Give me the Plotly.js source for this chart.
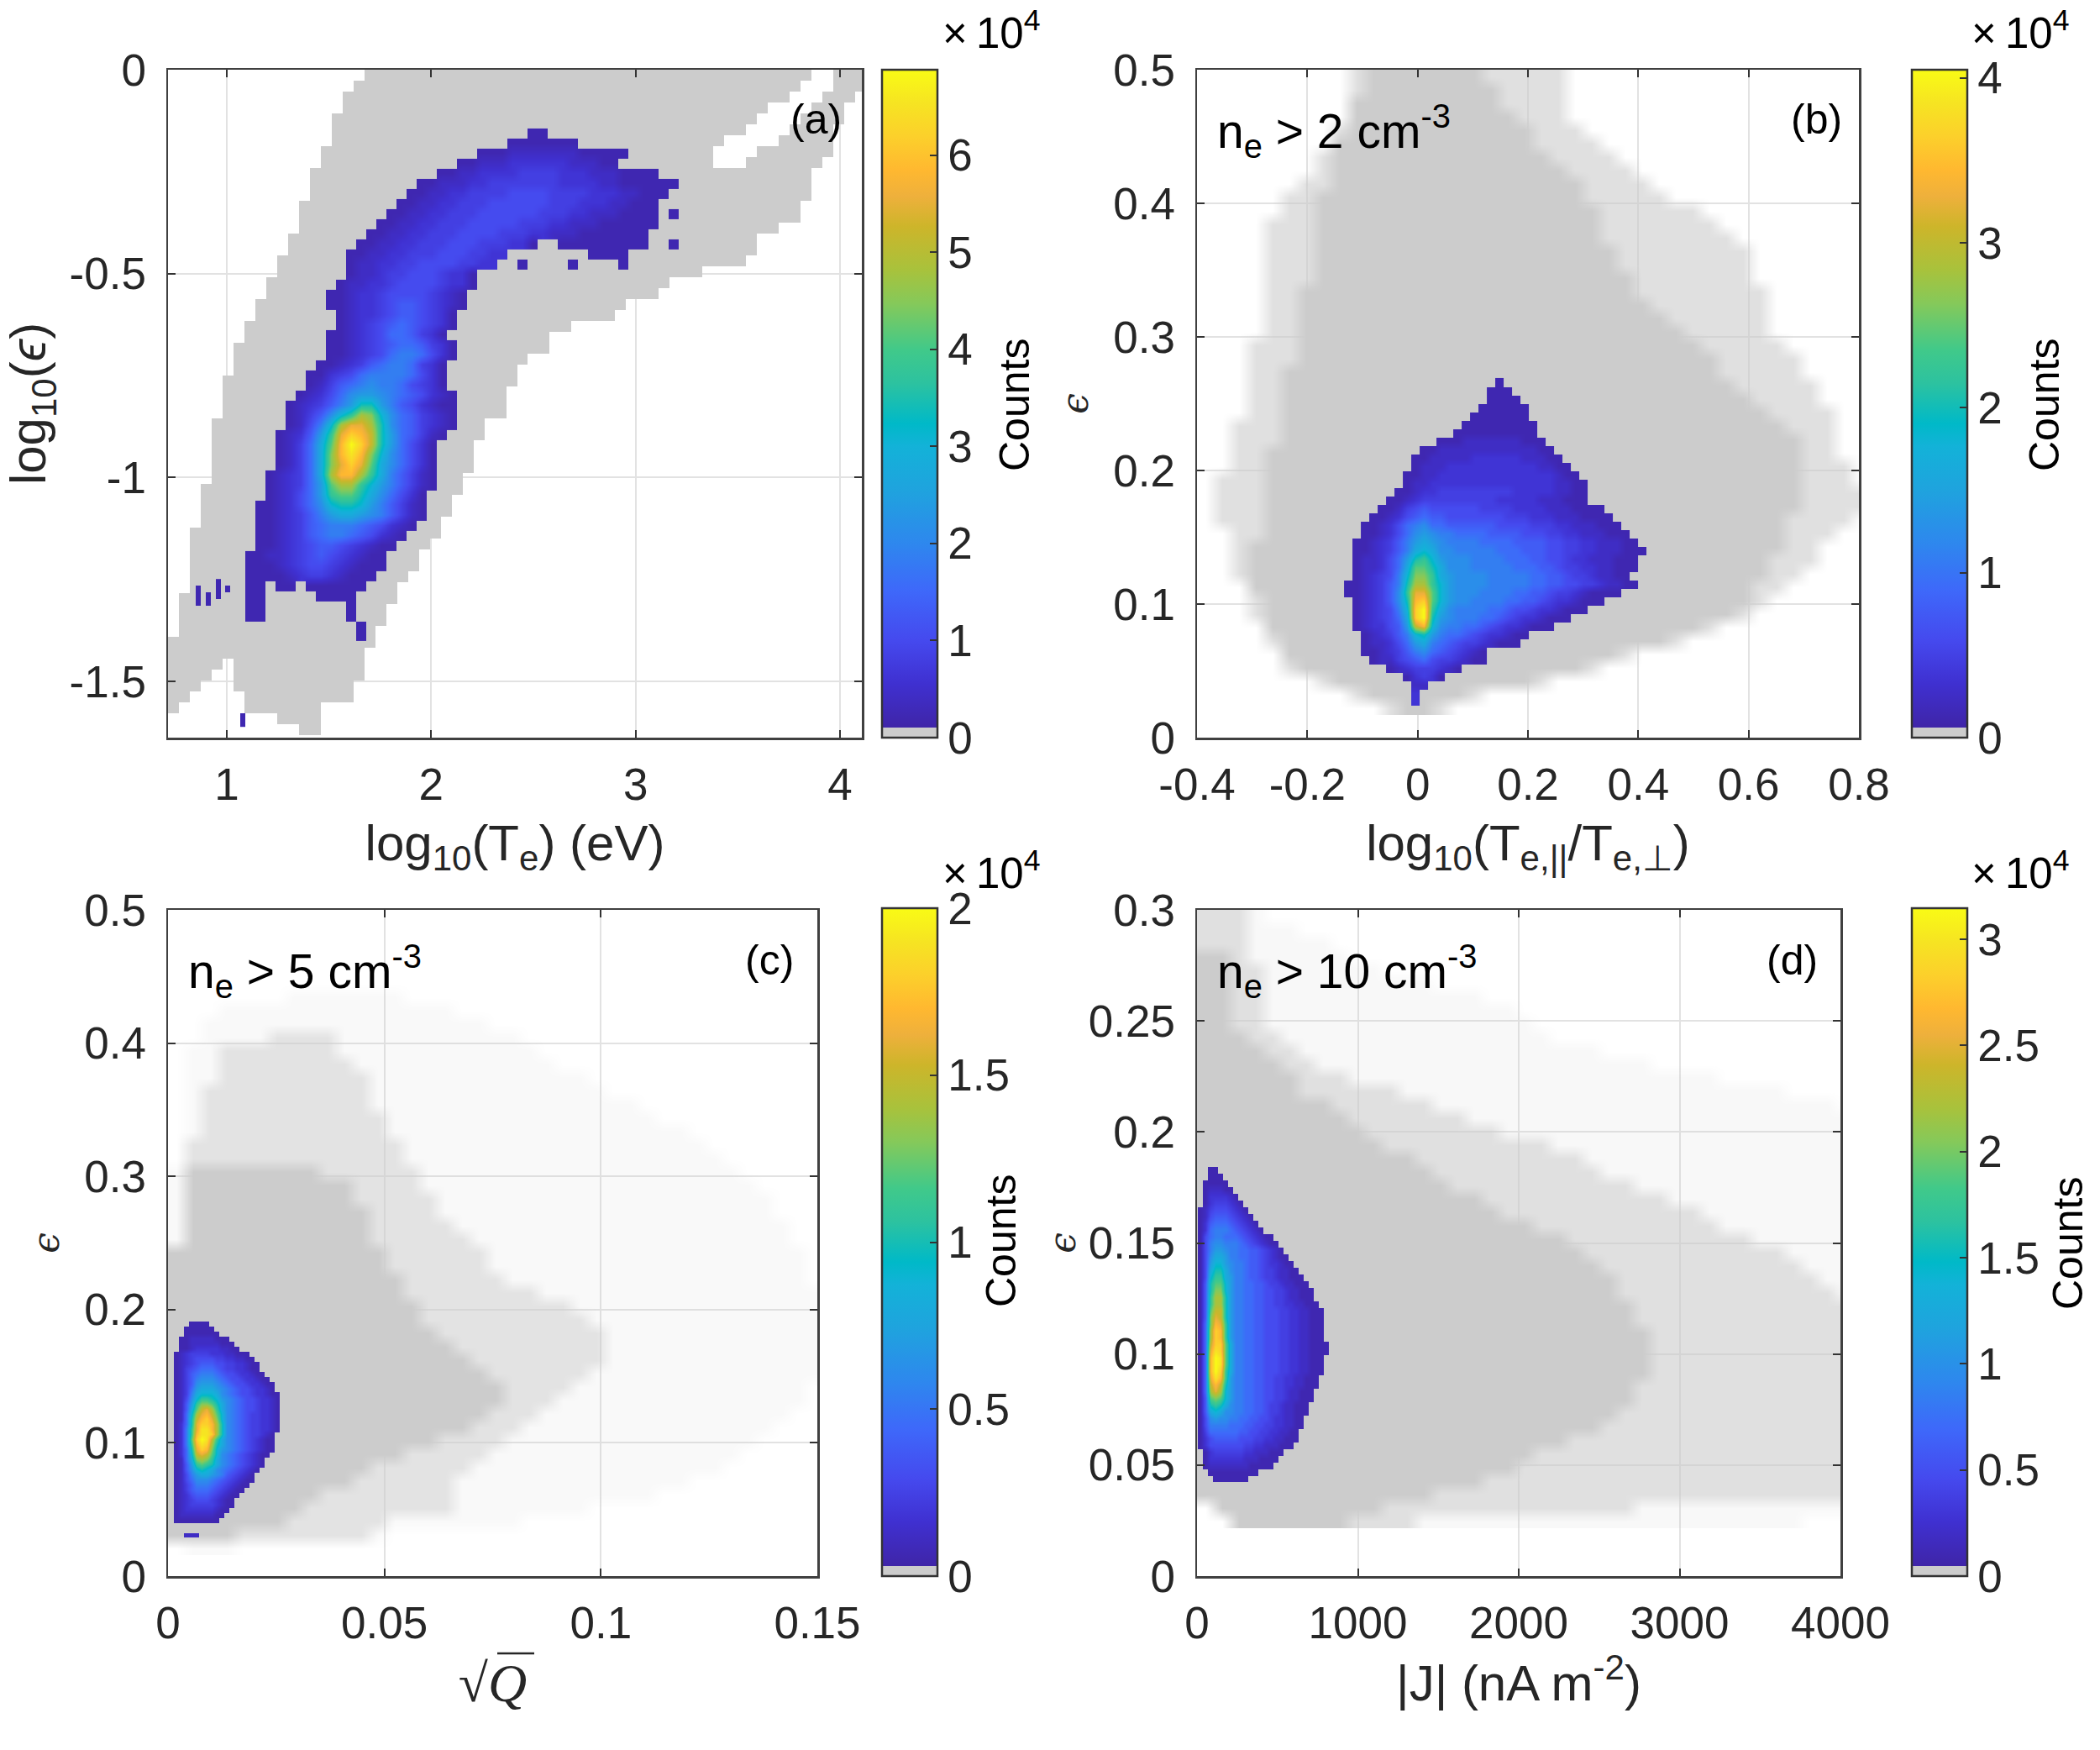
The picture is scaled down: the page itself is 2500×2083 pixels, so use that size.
<!DOCTYPE html>
<html>
<head>
<meta charset="utf-8">
<script src="https://cdn.plot.ly/plotly-3.0.1.min.js"></script>
<style>body{margin:0;background:#fff}</style>
</head>
<body>
<div id="fig" style="width:2500px;height:2083px"></div>
<script>
// fraction of the colorbar top for each character of the core rows
var levelChars = "123456789ABCDEFGHIJKLMN";
var levelFrac = [.03,.06,.09,.12,.15,.19,.23,.27,.31,.35,.40,.45,.50,.55,.60,.65,.70,.75,.80,.85,.90,.95,1];

// counts max (x10^4) of each colorbar
var cmaxA = 6.88, cmaxB = 4.05, cmaxC = 2, cmaxD = 3.147;

// panel a: populated bins (runs of columns per row), then counts per bin
var maskA = [
[18,58,61,63],[17,57,61,63],[16,56,60,62],[16,54,59,61],[15,53,58,61],[15,52,57,60],[15,50,56,60],[14,49,54,60],[14,49,53,59],[13,58],
[13,58],[13,58],[12,57],[12,57],[12,55],[11,53],[11,53],[10,52],[10,48],[9,45],
[9,44],[8,41],[8,40],[7,36],[7,34],[6,34],[6,32],[6,31],[5,31],[5,30],
[5,30],[5,30],[4,28],[4,28],[4,27],[4,27],[4,27],[4,26],[3,26],[3,25],
[3,25],[3,24],[2,24],[2,23],[2,22],[2,22],[2,21],[2,20],[1,20],[1,19],
[1,19],[1,18],[0,18],[0,17],[0,4,6,17],[0,3,6,17],[0,2,6,16],[0,1,7,16],[0,0,7,13],[10,13],[12,13]
];
var coreA = [
"...........................................",
".............................11............",
"...........................1111111.........",
"........................111222222211111....",
"......................1122233333322211.....",
"....................1122333344443332221111.",
"..................11222334444444333322111111",
".................11223344445555444433322111",
"................11223344455555544433322111.",
"...............112233444555555444332221111.1",
"..............1122334445555544433222111111.",
".............1122334445555444332221111111..",
"............112233444555444331..111111111..1",
"...........1122334445554433........1111....",
"...........122334455554433..1....1....1....",
"...........1223445554331",
"..........12233455554331",
".........11233455554321",
".........11233456654321",
"..........123345665431",
"..........123456765431",
".........112345776431",
".........1123456776431",
".........1123457887531",
"........1123467887431",
".......11345788887531",
".......12467898875431",
"......123579AA98765321",
".....123468ADDA8653211",
".....12469CEHGC9764321",
".....1258CHJJHD9764321",
"....1236AEJLKIDA76421",
"....1247BFKNLIDA7531",
"....1247BGKMKGC97531",
"....1247BGJLJFB97531",
"...12347BHKKHEB86421",
"...12347AFHHECA86421",
"...12357AEFFDB97531",
"..1123579CDDCA86421",
"..1123468ABBA986421",
"..1123467888765321",
"..112346788765321",
"..11234566543211",
".11223456543211",
".11123455432111",
".1111234432111",
".11.11.111111",
".11.....1111",
".11........1",
".11........1",
"............1",
"............1"
];
// the few isolated bins left of the core in panel a
var strayA = [
"....1.....",
"1...1.1...",
"1.1.1.....",
"1.1.......",
"..........",
"..........",
"..........",
"..........",
"..........",
"..........",
"..........",
"..........",
"..........",
"..........",
"..........",
"..........",
"..........",
"..........",
"..........",
"..........",
".........1",
".........1"
];

// panel b: column pairs per row, sparse then dense
var maskB = [
[9,21,10,16],[9,21,10,17],[9,21,9,17],[9,21,9,18],[8,22,9,19],[8,23,8,19],[7,24,8,20],[7,25,8,21],[6,26,8,22],[5,27,7,22],
[5,29,7,23],[4,30,7,23],[4,31,7,23],[4,32,7,24],[4,32,7,24],[4,32,7,25],[4,33,6,25],[4,33,6,26],[4,33,6,27],[4,33,6,28],
[3,34,6,29],[3,35,6,30],[3,35,5,30],[3,36,5,31],[3,36,5,32],[3,37,5,33],[2,37,5,34],[2,37,5,35],[2,37,4,35],[2,38,4,35],
[1,38,4,35],[1,39,4,35],[1,39,4,35],[1,38,4,34],[2,37,4,34],[2,36,3,34],[2,36,3,33],[2,35,3,33],[3,34,3,32],[3,33,4,32],
[3,32,4,31],[4,30,4,29],[4,28,5,27],[5,25,5,24],[5,23,6,22],[7,20,8,19],[9,16,10,15],[11,14,12,13]
];
var coreB = [
"...................1",
"..................111",
"..................1111",
".................111111",
"................1111111",
"...............111111111",
"..............1111111111",
"............1112222222111",
"..........1122222222222211",
".........112222233333322211",
".........1222333333333332211",
"........112233333333333333211",
"........1223333333333333332211",
".......11233444444444333332211",
"......112344444444433333222111",
".....112456555555444433332221111",
"....11235676655555554443332221111",
"...1123578977666666555544433222111",
"...1123579A988777766665554433222111",
"..1123468ABA988887777666655443322211",
"..1123468BCB9988888777666554433222111",
"..122357ADECA99988887776655433222111",
"..122357BFFDB99988888777665443322111",
"..123458CGGEBA999988888776654432211",
".1123468DHHECA9999888887766554432211",
".1123469EJJFCA99988887766544321111",
"..123469DKLFCA998888776654332111",
"..123458CLNEB98888776554332111",
"..123457BLNDA988877654332111",
"..123356AIKC98877654332111",
"...123468CDA87765433211",
"...122357AB87654432111",
"...112346897654321",
"....12245675443211",
"......123444321",
"........13431",
".........22",
".........3",
".........3"
];

// panel c: column pairs per row, faint then sparse then dense
var maskC = [
[],[],[],[],[],[],[7,13],[3,16],[2,18],[2,20,6,9],
[1,21,3,9],[1,22,3,10],[1,24,3,11],[1,25,2,11],[1,27,2,11],[1,28,2,12],[1,30,2,12],[1,31,1,13],[1,32,1,13],[0,33,1,14,1,8],
[0,34,1,14,1,10],[0,35,1,15,1,10],[0,35,1,15,1,11],[0,36,1,16,1,11],[0,36,1,17,1,11],[0,37,0,18,0,12],[0,37,0,18,0,12],[0,37,0,19,0,13],[0,38,0,21,0,13],[0,38,0,23,0,14],
[0,38,0,24,0,14],[0,38,0,25,0,15],[0,38,0,25,0,16],[0,38,0,25,0,17],[0,38,0,24,0,18],[0,37,0,23,0,19],[0,37,0,22,0,19],[0,36,0,21,0,18],[0,35,0,20,0,17],[0,34,0,19,0,15],
[0,33,0,18,0,13],[0,32,0,17,0,11],[0,30,0,16,0,10],[0,28,0,16,0,8],[0,24,0,16,0,7],[0,20,0,12,0,6],[0,12,0,11,0,3],[1,3]
];
var coreC = [
"",
"",
".....1111",
"....111111",
"....1111111",
"...1122222111",
"...11222222111",
"...112333332211",
"..123444433322111",
"..1234555544332211",
"..12345666554433211",
"..12456777654433211",
"..124678887655433211",
"..1246899987655433211",
"..12469AAA987655433211",
"..1247ABBBA98765543321",
"..1248BCCCB987655433211",
"..1259CEEDCA98765543321",
"..126AEGGFDB98765543321",
"..126BFIJHEB98765543321",
"..127CHJKIFC98765443321",
"..127DIKLJGC98765443321",
"..137DJLLKHD98765443321",
"..138EJMMKHD98765443321",
"..138EKMMLHD9876544321",
"..138FLNMIEB9876543211",
"..138EKMLHDB9876543211",
"..137DJLKGCA9876543211",
"..137CIJIFC9876543211",
"..127BGHGEB987654321",
"..126AEFEDB987654321",
"..1269CDCB987654321",
"..1258ABBA98654321",
"..1257999876543211",
"..124688876543211",
"..12467776543211",
"..1235666543211",
"..123455543211",
"..123444443211",
"..12333333211",
"..1222222211",
"..111111111",
"",
"",
"....222"
];

// panel d: column pairs per row, faint then sparse then dense
var maskD = [
[0,3,0,2],[0,5,0,2],[0,7,0,2],[0,8,0,2,0,1],[0,10,0,3,0,1],[0,13,0,3,0,1],[0,16,0,3,0,1],[0,18,0,3,0,1],[0,19,0,3,0,1],[0,20,0,4,0,2],
[0,23,0,5,0,3],[0,26,0,6,0,4],[0,30,0,8,0,5],[0,34,0,11,0,5],[0,37,0,13,0,7],[0,38,0,15,0,8],[0,38,0,17,0,9],[0,38,0,20,0,10],[0,38,0,22,0,12],[0,38,0,23,0,13],
[0,38,0,25,0,14],[0,38,0,27,0,16],[0,38,0,29,0,17],[0,38,0,30,0,19],[0,38,0,32,0,21],[0,38,0,34,0,22],[0,38,0,35,0,23],[0,38,0,36,0,24],[0,38,0,37,0,24],[0,38,0,38,0,25],
[0,38,0,38,0,25],[0,38,0,38,0,26],[0,38,0,38,0,26],[0,38,0,38,0,26],[0,38,0,38,0,26],[0,38,0,38,0,25],[0,38,0,38,0,25],[0,38,0,38,0,24],[0,38,0,38,0,23],[0,38,0,38,0,21],
[0,38,0,38,0,19],[0,38,0,38,0,18],[0,38,0,38,0,16],[0,38,0,38,0,13],[1,38,1,25,1,10],[2,35,2,12,2,8]
];
var coreD = [
"",
"...11",
"...111",
"..11111",
"..122211",
"..1333321",
"..13444321",
".1245554321",
".12566654321",
".136777654321",
".1378887654321",
".157887776543211",
".1589988876543211",
".158AA988776654321",
".159BBA887766543211",
".15ACCA9887665433211",
".15BDDB98876654432211",
".15CEEBA88766544322111",
".16DFFCA887766544322111",
".16DGGCA8877665544322111",
".16EHHDA8877665544322111",
".16EHHDA88776655443322111",
".16FIIDA887766555443322111",
".16GJIDA887766555443322111",
".17GKJEA887766555443322111",
".17HLKEA887766555443322111",
".17HLKEA887766555443322111",
".17ILLFB8877665554433221111",
".17JMLFB8877665554433221111",
".17KNMFB887766555443322111",
".17KNMFB887766555443322111",
".17KNLEB887766555443322111",
".17JMKEA88776655443322111",
".17IKIDA88776655443322111",
".17HJHCA8877665544322111",
".16FGFCA8877665544322111",
".16DEDB9887766544322111",
".16BCB99887766544322111",
".159A99887766554332211",
".158888777665544332211",
".14777777665544332211",
".13566666555443322111",
".1355555554433222111",
"..1344444433222111",
"..133333332221111",
"..12222222211111",
"...1111111111",
"....1111111"
];

// axis ticks
var xticksA = [1,2,3,4], yticksA = [0,-0.5,-1,-1.5];
var yticktextA = ["0","-0.5","-1","-1.5"];
var xticksB = [-0.4,-0.2,0,0.2,0.4,0.6,0.8], yticksB = [0,0.1,0.2,0.3,0.4,0.5];
var xticktextB = ["-0.4","-0.2","0","0.2","0.4","0.6","0.8"];
var xticksC = [0,0.05,0.1,0.15], yticksC = [0,0.1,0.2,0.3,0.4,0.5];
var xticksD = [0,1000,2000,3000,4000], yticksD = [0,0.05,0.1,0.15,0.2,0.25,0.3];
var cbTicksA = [0,1,2,3,4,5,6], cbTicksB = [0,1,2,3,4];
var cbTicksC = [0,0.5,1,1.5,2], cbTicksD = [0,0.5,1,1.5,2,2.5,3];

var W = 2500, H = 2083;
var textColor = "#262626";
var font = "Liberation Sans, Arial, sans-serif";

// first stop band is the grey "few counts" colour
var parula = [
  [0,"#cccccc"],[0.0156,"#cccccc"],[0.0156,"#3f25a8"],[0.08,"#3f30d0"],[0.145,"#4549ee"],
  [0.22,"#3e68fa"],[0.29,"#2e87ee"],[0.37,"#1fa3de"],[0.436,"#13b2d8"],[0.47,"#00b9c8"],
  [0.53,"#2cc2a0"],[0.58,"#40c98a"],[0.65,"#85c95a"],[0.70,"#a8c23c"],[0.765,"#cdb52a"],
  [0.81,"#eeb03c"],[0.85,"#ffb830"],[0.90,"#fcd02b"],[0.95,"#f6e422"],[1,"#f9fb15"]
];
var greyScale = [[0,"rgba(204,204,204,0)"],[1,"rgba(204,204,204,1)"]];

function maskMatrix(rows, ncols, levels, blank) {
  let z = [];
  rows.forEach(function (row) {
    let line = [];
    for (let c = 0; c < ncols; c++) {
      let v = blank;
      for (let k = 0; k + 1 < row.length; k += 2) {
        if (c >= row[k] && c <= row[k + 1]) v = levels[Math.min(k / 2, levels.length - 1)];
      }
      line.push(v);
    }
    z.push(line);
  });
  return z;
}

function coreMatrix(rows, cmax) {
  let ncols = 0;
  rows.forEach(function (r) { ncols = Math.max(ncols, r.length); });
  return rows.map(function (r) {
    let line = [];
    for (let c = 0; c < ncols; c++) {
      let i = c < r.length ? levelChars.indexOf(r[c]) : -1;
      line.push(i < 0 ? null : levelFrac[i] * cmax);
    }
    return line;
  });
}

function gridTrace(z, g, extra) {
  // rows are typed top to bottom, the axis runs bottom to top
  let t = {
    type: "heatmap",
    z: z.slice().reverse(),
    x0: g.x0, dx: g.dx,
    y0: g.ytop - g.dy * (z.length - 1), dy: g.dy,
    hoverinfo: "skip",
  };
  return Object.assign(t, extra);
}

function colorbar(x, y0, vals, labels) {
  return {
    x: x / W, xanchor: "left", y: 1 - y0 / H, yanchor: "bottom",
    len: 795 / H, lenmode: "fraction", thickness: 66, thicknessmode: "pixels",
    xpad: 0, ypad: 0, outlinecolor: "#333333", outlinewidth: 2.5, borderwidth: 0,
    ticks: "inside", ticklen: 10, tickwidth: 2, tickcolor: "#333333",
    tickvals: vals, ticktext: labels,
    tickfont: { family: font, size: 53, color: textColor },
  };
}

var data = [
  gridTrace(maskMatrix(maskA, 64, [1, 1], null), { x0: 0.7392, dx: 0.05339, ytop: -0.01337, dy: 0.02675 },
    { xaxis: "x", yaxis: "y", colorscale: greyScale, zmin: 0, zmax: 1, showscale: false }),
  gridTrace(coreMatrix(strayA, cmaxA), { x0: 1 - 34 / 243.5, dx: 3.5 / 243.5 * 1.7, ytop: -(694 - 83) / 486, dy: 8 / 486 },
    { xaxis: "x", yaxis: "y", colorscale: parula, zmin: 0, zmax: cmaxA, showscale: false }),
  gridTrace(coreMatrix(coreA, cmaxA), { x0: 1.0657, dx: 0.04928, ytop: -0.12963, dy: 0.02469 },
    { xaxis: "x", yaxis: "y", colorscale: parula, zmin: 0, zmax: cmaxA, zsmooth: "best",
      colorbar: colorbar(1050, 878, cbTicksA, cbTicksA.map(String)) }),

  gridTrace(maskMatrix(maskB, 40, [0.6, 1], 0), { x0: -0.3848, dx: 0.03046, ytop: 0.49497, dy: 0.01006 },
    { xaxis: "x2", yaxis: "y2", colorscale: greyScale, zmin: 0, zmax: 1, showscale: false, zsmooth: "best" }),
  gridTrace(coreMatrix(coreB, cmaxB), { x0: -0.1411, dx: 0.01523, ytop: 0.26607, dy: 0.00629 },
    { xaxis: "x2", yaxis: "y2", colorscale: parula, zmin: 0, zmax: cmaxB, zsmooth: "best",
      colorbar: colorbar(2276, 878, cbTicksB, cbTicksB.map(String)) }),

  gridTrace(maskMatrix(maskC, 39, [0.12, 0.55, 1], 0), { x0: 0.00194, dx: 0.00388, ytop: 0.49496, dy: 0.01009 },
    { xaxis: "x3", yaxis: "y3", colorscale: greyScale, zmin: 0, zmax: 1, showscale: false, zsmooth: "best" }),
  gridTrace(coreMatrix(coreC, cmaxC), { x0: -0.000388, dx: 0.001164, ytop: 0.19735, dy: 0.003783 },
    { xaxis: "x3", yaxis: "y3", colorscale: parula, zmin: 0, zmax: cmaxC, zsmooth: "best",
      colorbar: colorbar(1050, 1876, cbTicksC, cbTicksC.map(String)) }),

  gridTrace(maskMatrix(maskD, 39, [0.14, 0.6, 1], 0), { x0: 52.2, dx: 104.4, ytop: 0.29697, dy: 0.006053 },
    { xaxis: "x4", yaxis: "y4", colorscale: greyScale, zmin: 0, zmax: 1, showscale: false, zsmooth: "best" }),
  gridTrace(coreMatrix(coreD, cmaxD), { x0: -10.4, dx: 31.33, ytop: 0.18613, dy: 0.003026 },
    { xaxis: "x4", yaxis: "y4", colorscale: parula, zmin: 0, zmax: cmaxD, zsmooth: "best",
      colorbar: colorbar(2276, 1876, cbTicksD, cbTicksD.map(String)) }),
];

function xAxis(anchor, left, right, range, vals, labels, title, standoff, titleFont) {
  return {
    anchor: anchor,
    domain: [left / W, right / W], range: range,
    tickmode: "array", tickvals: vals, ticktext: labels,
    ticks: "inside", ticklen: 9, tickwidth: 2, tickcolor: "#333333",
    showline: true, linecolor: "#404040", linewidth: 2.5, mirror: "ticks",
    showgrid: true, gridcolor: "#e2e2e2", gridwidth: 2, zeroline: false,
    ticklabelstandoff: 8,
    tickfont: { family: font, size: 53, color: textColor },
    title: { text: title, standoff: standoff, font: titleFont || { family: font, size: 60, color: textColor } },
  };
}

function yAxis(anchor, top, bottom, range, vals, labels, title, standoff, titleFont) {
  let a = xAxis(anchor, 0, 1, range, vals, labels, title, standoff, titleFont);
  a.domain = [1 - bottom / H, 1 - top / H];
  a.ticklabelstandoff = 13;
  return a;
}

var epsFont = { family: "DejaVu Serif, serif", size: 44, color: textColor };

var layout = {
  width: W, height: H,
  margin: { l: 0, r: 0, t: 0, b: 0 },
  paper_bgcolor: "#ffffff", plot_bgcolor: "#ffffff",
  showlegend: false,
  xaxis: xAxis("y", 200, 1026, [0.7125, 4.107], xticksA, xticksA.map(String), "log<sub>10</sub>(T<sub>e</sub>) (eV)", 20),
  yaxis: yAxis("x", 83, 878, [-1.638, 0], yticksA, yticktextA, "log<sub>10</sub>(<i>ϵ</i>)", 12),
  xaxis2: xAxis("y2", 1425, 2213, [-0.4, 0.8], xticksB, xticktextB, "log<sub>10</sub>(T<sub>e,||</sub>/T<sub>e,⊥</sub>)", 20),
  yaxis2: yAxis("x2", 83, 878, [0, 0.5], yticksB, yticksB.map(String), "<i>ϵ</i>", 16, epsFont),
  xaxis3: xAxis("y3", 200, 973, [0, 0.15], xticksC, xticksC.map(String), "√<i>Q</i>", 20, { family: "Liberation Serif, serif", size: 64, color: textColor }),
  yaxis3: yAxis("x3", 1083, 1876, [0, 0.5], yticksC, yticksC.map(String), "<i>ϵ</i>", 16, epsFont),
  xaxis4: xAxis("y4", 1425, 2191, [0, 4000], xticksD, xticksD.map(String), "|J| (nA m<sup>-2</sup>)", 20),
  yaxis4: yAxis("x4", 1083, 1876, [0, 0.3], yticksD, yticksD.map(String), "<i>ϵ</i>", 2, epsFont),
  shapes: [
    { type: "line", xref: "paper", yref: "paper", x0: 592 / W, x1: 636 / W, y0: 1 - 1968 / H, y1: 1 - 1968 / H,
      line: { color: textColor, width: 2.5 } },
  ],
  annotations: [],
};

function note(text, x, y, size, anchor, angle) {
  layout.annotations.push({
    text: text, xref: "paper", yref: "paper", x: x / W, y: 1 - y / H,
    xanchor: anchor || "left", yanchor: "middle", showarrow: false, textangle: angle || 0,
    font: { family: font, size: size, color: "#000000" },
  });
}

note("(a)", 939, 142, 50);
note("(b)", 2130, 142, 50);
note("(c)", 885, 1143, 50);
note("(d)", 2101, 1143, 50);
note("n<sub>e</sub> > 2 cm<sup>-3</sup>", 1447, 156, 57);
note("n<sub>e</sub> > 5 cm<sup>-3</sup>", 222, 1156, 57);
note("n<sub>e</sub> > 10 cm<sup>-3</sup>", 1447, 1156, 57);
note("Counts", 1208, 482, 50, "center", -90);
note("Counts", 2434, 482, 50, "center", -90);
note("Counts", 1192, 1477, 50, "center", -90);
note("Counts", 2462, 1480, 50, "center", -90);
note("×\u200910<sup>4</sup>", 1120, 36, 51);
note("×\u200910<sup>4</sup>", 2345, 36, 51);
note("×\u200910<sup>4</sup>", 1120, 1036, 51);
note("×\u200910<sup>4</sup>", 2345, 1036, 51);

Plotly.newPlot("fig", data, layout, { displayModeBar: false, staticPlot: true });
</script>
</body>
</html>
